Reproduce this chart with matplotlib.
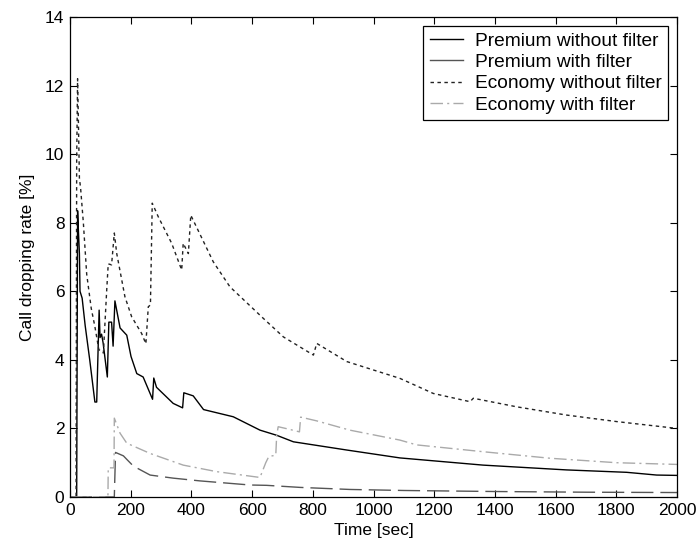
import matplotlib
matplotlib.use("Agg")
import matplotlib.pyplot as plt
from matplotlib.lines import Line2D

plt.rcParams['font.family'] = ['Liberation Sans', 'DejaVu Sans']

# Premium without filter
t_pwo = [0, 22, 25, 28, 31, 33, 40, 50, 65, 82, 88, 96, 99, 104, 109, 123, 128, 137, 142, 148,
         165, 187, 201, 220, 241, 272, 276, 285, 340, 371, 375, 406, 440, 538, 626, 681, 736,
         912, 1087, 1361, 1636, 1834, 1933, 2000]
v_pwo = [0, 0, 8.35, 7.7, 7.1, 6.0, 5.8, 5.0, 4.0, 2.77, 2.77, 5.45, 4.65, 4.75, 4.5, 3.5, 5.1, 5.1, 4.4, 5.72,
         4.93, 4.72, 4.1, 3.6, 3.5, 2.85, 3.47, 3.2, 2.73, 2.6, 3.04, 2.95, 2.55, 2.34, 1.95, 1.8, 1.61,
         1.37, 1.14, 0.93, 0.79, 0.72, 0.64, 0.63]

# Premium with filter
t_pw = [0, 146, 150, 176, 189, 209, 264, 340, 428, 593, 648, 758, 922, 1100, 1400, 1700, 2000]
v_pw = [0, 0, 1.3, 1.2, 1.08, 0.9, 0.64, 0.55, 0.47, 0.35, 0.34, 0.28, 0.22, 0.19, 0.16, 0.14, 0.13]

# Economy without filter
t_ewo = [0, 20, 22, 25, 28, 31, 35, 44, 55, 70, 82, 95, 110, 121, 126, 137, 146, 154, 181, 203,
         236, 250, 258, 265, 271, 291, 335, 368, 373, 390, 398, 472, 527, 637, 703, 802, 813,
         912, 1087, 1197, 1318, 1329, 1472, 1636, 1801, 2000]
v_ewo = [0, 0, 9.8, 12.2, 10.8, 9.3, 9.0, 8.0, 6.5, 5.5, 4.97, 4.3, 4.2, 6.04, 6.8, 6.77, 7.7, 7.1, 5.84, 5.26,
         4.77, 4.47, 5.55, 5.6, 8.57, 8.17, 7.4, 6.62, 7.4, 7.1, 8.22, 6.86, 6.13, 5.21, 4.67, 4.14, 4.48,
         3.95, 3.46, 3.02, 2.78, 2.88, 2.63, 2.39, 2.2, 2.0]

# Economy with filter
t_ew = [0, 125, 126, 145, 146, 165, 187, 264, 373, 483, 626, 645, 655, 678, 681, 686, 720, 756, 760,
        813, 922, 1087, 1142, 1362, 1582, 1801, 2000]
v_ew = [0, 0, 0.85, 0.85, 2.3, 1.86, 1.57, 1.27, 0.93, 0.74, 0.57, 1.0, 1.18, 1.22, 1.8, 2.05, 1.98, 1.9, 2.33,
        2.22, 1.95, 1.66, 1.52, 1.32, 1.13, 1.0, 0.95]

labels = ["Premium without filter", "Premium with filter",
          "Economy without filter", "Economy with filter"]

FS = 12.5
LFS = 13.8

fig = plt.figure(figsize=(6.97, 5.48), dpi=100)
ax = fig.add_axes([70/697, 51/548, 607/697, 480/548])

ax.plot(t_pwo, v_pwo, color='black', lw=1.0, linestyle='-')
ax.plot(t_pw, v_pw, color='#555555', lw=1.0, dashes=(16, 5))
ax.plot(t_ewo, v_ewo, color='#222222', lw=1.0, dashes=(2.5, 2.5))
ax.plot(t_ew, v_ew, color='#aaaaaa', lw=1.0, dashes=(9, 3, 1.5, 3))

ax.set_xlim(0, 2000)
ax.set_ylim(0, 14)
ax.set_xticks(range(0, 2001, 200))
ax.set_yticks(range(0, 15, 2))
ax.tick_params(direction='in', top=True, right=True, labelsize=FS, length=5, width=0.8, pad=4)
for s in ax.spines.values():
    s.set_linewidth(0.9)
ax.set_xlabel("Time [sec]", fontsize=FS, labelpad=4)
ax.set_ylabel("Call dropping rate [%]", fontsize=FS, labelpad=7)

handles = [Line2D([], [], color='black', lw=1.0),
           Line2D([], [], color='#555555', lw=1.0),
           Line2D([], [], color='#222222', lw=1.0, dashes=(2.5, 2.5)),
           Line2D([], [], color='#aaaaaa', lw=1.0, dashes=(9, 3, 1.5, 3))]
leg = ax.legend(handles, labels, loc='upper right', fontsize=LFS, frameon=True, fancybox=False,
                edgecolor='black', framealpha=1, borderaxespad=0.45, handlelength=1.75,
                labelspacing=0.2, borderpad=0.35, handletextpad=0.6)
leg.get_frame().set_linewidth(0.9)

fig.savefig("out.png", dpi=100, facecolor='white')
